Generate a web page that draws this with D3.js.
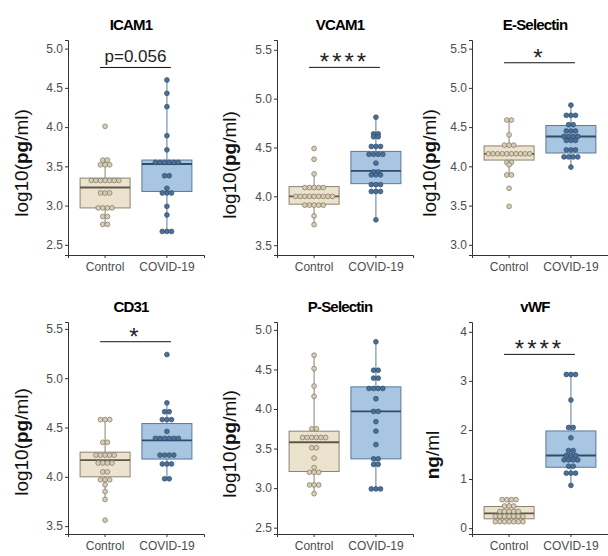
<!DOCTYPE html>
<html>
<head>
<meta charset="utf-8">
<script src="https://cdn.jsdelivr.net/npm/d3@7"></script>
<style>
  body { margin: 0; background: #fff; }
  svg { font-family: "Liberation Sans", Arial, sans-serif; }
</style>
</head>
<body>
<svg id="chart" width="608" height="556"></svg>
<script>
let groups = ["Control", "COVID-19"];
let titles = ["ICAM1", "VCAM1", "E-Selectin", "CD31", "P-Selectin", "vWF"];
let units = ["pg", "pg", "pg", "pg", "pg", "ng"];
let yDomains = [[2.37, 5.11], [3.4, 5.6], [2.87, 5.61], [3.42, 5.57], [2.42, 5.1], [-0.12, 4.2]];
let yTicks = [[2.5, 3, 3.5, 4, 4.5, 5], [3.5, 4, 4.5, 5, 5.5], [3, 3.5, 4, 4.5, 5, 5.5],
              [3.5, 4, 4.5, 5, 5.5], [2.5, 3, 3.5, 4, 4.5, 5], [0, 1, 2, 3, 4]];

// significance bars: label and height (data units); null = none
let sigLabels = ["p=0.056", "****", "*", "*", null, "****"];
let sigHeights = [4.76, 5.32, 5.32, 5.37, null, 3.54];

// box stats [lower whisker, q1, median, q3, upper whisker] for Control, COVID-19
let boxControl = [
  [2.76, 2.97, 3.23, 3.35, 3.56],
  [3.70, 3.92, 4.00, 4.10, 4.23],
  [3.88, 4.08, 4.16, 4.26, 4.59],
  [3.77, 4.00, 4.17, 4.25, 4.58],
  [2.93, 3.21, 3.58, 3.72, 4.68],
  [0.12, 0.19, 0.30, 0.44, 0.58]
];
let boxCovid = [
  [2.67, 3.18, 3.53, 3.58, 4.60],
  [3.76, 4.13, 4.26, 4.46, 4.81],
  [3.99, 4.17, 4.38, 4.52, 4.78],
  [3.98, 4.18, 4.37, 4.54, 4.75],
  [2.99, 3.37, 3.97, 4.28, 4.85],
  [0.87, 1.24, 1.48, 1.98, 3.13]
];

// individual values (dot plot), Control
let dotsControl = [
  [4.01, 3.58, 3.58, 3.52, 3.52, 3.52, 3.32, 3.32, 3.32, 3.32, 3.32, 3.32, 3.32,
   3.16, 3.16, 3.16, 2.97, 2.97, 2.97, 2.97, 2.86, 2.86, 2.76, 2.76],
  [4.49, 4.38, 4.23, 4.09, 4.09, 4.09, 4.09, 4.09, 4.00, 4.00, 4.00, 4.00, 4.00,
   4.00, 4.00, 4.00, 4.00, 3.91, 3.91, 3.91, 3.91, 3.91, 3.80, 3.71],
  [4.59, 4.59, 4.40, 4.27, 4.27, 4.27, 4.16, 4.16, 4.16, 4.16, 4.16, 4.16, 4.16,
   4.16, 4.16, 4.16, 4.05, 4.05, 4.02, 3.89, 3.89, 3.72, 3.49],
  [4.58, 4.58, 4.58, 4.35, 4.35, 4.22, 4.22, 4.22, 4.22, 4.22, 4.14, 4.14, 4.14,
   4.14, 4.05, 4.05, 3.97, 3.97, 3.97, 3.92, 3.85, 3.77, 3.56],
  [4.68, 4.51, 4.29, 4.16, 3.75, 3.75, 3.64, 3.64, 3.64, 3.64, 3.64, 3.64, 3.51,
   3.51, 3.38, 3.26, 3.20, 3.20, 3.20, 3.04, 3.04, 3.04, 2.93],
  [0.58, 0.58, 0.58, 0.58, 0.45, 0.45, 0.45, 0.34, 0.34, 0.34, 0.34, 0.34, 0.24,
   0.24, 0.24, 0.24, 0.24, 0.24, 0.24, 0.13, 0.13, 0.13, 0.13, 0.13, 0.13, 0.13]
];
// individual values (dot plot), COVID-19
let dotsCovid = [
  [4.60, 4.43, 4.26, 3.89, 3.71, 3.55, 3.55, 3.55, 3.55, 3.55, 3.55, 3.38, 3.38,
   3.22, 3.16, 3.16, 3.16, 2.99, 2.88, 2.67, 2.67, 2.67],
  [4.81, 4.64, 4.64, 4.61, 4.61, 4.51, 4.51, 4.51, 4.43, 4.43, 4.43, 4.43, 4.34,
   4.25, 4.25, 4.22, 4.22, 4.22, 4.12, 4.12, 4.12, 4.05, 4.05, 4.05, 3.76],
  [4.78, 4.65, 4.65, 4.65, 4.53, 4.53, 4.45, 4.45, 4.45, 4.38, 4.38, 4.38, 4.38,
   4.33, 4.33, 4.33, 4.21, 4.21, 4.21, 4.12, 4.12, 4.12, 4.12, 3.99],
  [5.24, 4.75, 4.66, 4.66, 4.58, 4.58, 4.58, 4.46, 4.39, 4.39, 4.39, 4.39, 4.39,
   4.39, 4.22, 4.22, 4.22, 4.22, 4.13, 4.13, 4.13, 3.98, 3.98],
  [4.85, 4.49, 4.49, 4.39, 4.39, 4.26, 4.26, 4.26, 4.26, 4.13, 3.97, 3.97, 3.84,
   3.72, 3.55, 3.37, 3.37, 3.30, 3.30, 2.99, 2.99, 2.99],
  [3.13, 3.13, 3.13, 2.61, 2.05, 2.05, 1.84, 1.58, 1.58, 1.48, 1.48, 1.48, 1.39,
   1.39, 1.39, 1.39, 1.26, 1.26, 1.12, 1.12, 1.12, 0.87]
];

const svg = d3.select("#chart");

// panel frames (left axis x, plot top, plot bottom) and y-label placement
const colX = [68, 277, 472];
const rowY = [[40, 255], [322, 534]];
const plotW = 136;
const labelPos = [[21, 163], [229, 165], [429, 163], [21, 442], [229, 444], [432, 455]];

const boxFill = ["#ece3cf", "#a8c5e2"];
const boxStroke = ["#8b8372", "#5b7a98"];
const dotFill = ["#d8cdb4", "#4a7098"];
const dotStroke = ["#7d7463", "#2f4d6b"];

titles.forEach((title, i) => {
    let left = colX[i % 3];
    let [top, bottom] = rowY[Math.floor(i / 3)];

    let x = d3.scaleBand().domain(groups).range([left, left + plotW]).paddingOuter(0.1);
    let y = d3.scaleLinear().domain(yDomains[i]).range([bottom, top]);
    let bw = 50;

    let g = svg.append("g");

    // axes
    let yAxis = d3.axisLeft(y).tickValues(yTicks[i]).tickSize(3).tickPadding(2)
        .tickFormat(i === 5 ? d3.format("d") : d3.format(".1f"));
    let ya = g.append("g").attr("transform", `translate(${left},0)`).call(yAxis);
    let xa = g.append("g").attr("transform", `translate(0,${bottom})`)
        .call(d3.axisBottom(x).tickSize(3).tickPadding(4));
    [ya, xa].forEach(a => {
        a.select(".domain").attr("stroke", "#333").attr("stroke-width", 1);
        a.selectAll(".tick line").attr("stroke", "#333");
        a.selectAll(".tick text").attr("fill", "#4d4d4d").style("font-size", "12px")
            .style("font-family", "Liberation Sans, Arial, sans-serif");
    });

    // boxes
    let stats = [boxControl[i], boxCovid[i]];
    stats.forEach((s, k) => {
        let cx = x(groups[k]) + x.bandwidth() / 2;
        g.append("line").attr("x1", cx).attr("x2", cx)
            .attr("y1", y(s[0])).attr("y2", y(s[4]))
            .attr("stroke", boxStroke[k]).attr("stroke-width", 1);
        g.append("rect").attr("x", cx - bw / 2).attr("width", bw)
            .attr("y", y(s[3])).attr("height", y(s[1]) - y(s[3]))
            .attr("fill", boxFill[k]).attr("stroke", boxStroke[k]).attr("stroke-width", 1);
        g.append("line").attr("x1", cx - bw / 2).attr("x2", cx + bw / 2)
            .attr("y1", y(s[2])).attr("y2", y(s[2]))
            .attr("stroke", k === 0 ? "#5e5648" : "#2f4c68").attr("stroke-width", 1.8);
    });

    // dots, stacked horizontally around the centre line
    let sets = [dotsControl[i], dotsCovid[i]];
    sets.forEach((vals, k) => {
        let cx = x(groups[k]) + x.bandwidth() / 2;
        let bins = d3.groups(vals, v => v);
        bins.forEach(([v, list]) => {
            list.forEach((d, j) => {
                g.append("circle")
                    .attr("cx", cx + (j - (list.length - 1) / 2) * 4.6)
                    .attr("cy", y(v))
                    .attr("r", 2.4)
                    .attr("fill", dotFill[k]).attr("stroke", dotStroke[k]).attr("stroke-width", 0.7);
            });
        });
    });

    // significance bar
    if (sigLabels[i]) {
        let x1 = x(groups[0]) + x.bandwidth() / 2 - 5;
        let x2 = x(groups[1]) + x.bandwidth() / 2 + 4;
        let sy = y(sigHeights[i]);
        g.append("line").attr("x1", x1).attr("x2", x2).attr("y1", sy).attr("y2", sy)
            .attr("stroke", "#111").attr("stroke-width", 1);
        let isStar = sigLabels[i].startsWith("*");
        g.append("text").attr("x", (x1 + x2) / 2).attr("y", isStar ? sy + 3 : sy - 5)
            .attr("text-anchor", "middle")
            .attr("fill", "#222")
            .style("font-size", isStar ? "24px" : "17px")
            .style("letter-spacing", isStar ? "3px" : "0px")
            .text(sigLabels[i]);
    }

    // title
    g.append("text").attr("x", left + plotW / 2 - 5).attr("y", top - 10)
        .attr("text-anchor", "middle").style("font-size", "15px").style("font-weight", "bold")
        .style("letter-spacing", "-0.8px")
        .text(title);

    // y label
    let [lx, ly] = labelPos[i];
    let lab = g.append("text").attr("transform", `translate(${lx},${ly}) rotate(-90)`)
        .attr("text-anchor", "middle").attr("dominant-baseline", "central")
        .style("font-size", "19px").attr("fill", "#111");
    if (i === 5) {
        lab.append("tspan").style("font-weight", "bold").text(units[i]);
        lab.append("tspan").text("/ml");
    } else {
        lab.append("tspan").text("log10(");
        lab.append("tspan").style("font-weight", "bold").text(units[i]);
        lab.append("tspan").text("/ml)");
    }
});
</script>
</body>
</html>
